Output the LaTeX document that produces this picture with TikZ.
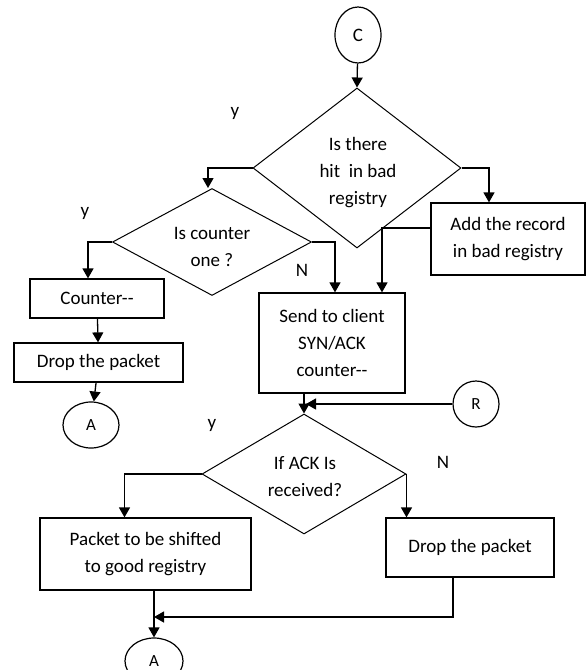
\documentclass[tikz,border=0pt]{standalone}
\usepackage{fontspec}
\setmainfont{Carlito}
\usetikzlibrary{calc,shapes.geometric,arrows.meta}
\tikzset{
	box/.style={draw, line width=1.2pt, rectangle, inner sep=0pt, align=center},
	dec/.style={draw, line width=1pt, diamond, inner sep=0pt},
	con/.style={draw, line width=1.2pt, ellipse, inner sep=0pt},
	txt/.style={align=center, inner sep=0pt},
	flow/.style={line width=1.3pt, -{Triangle[length=10pt,width=11pt]}},
	line/.style={line width=1.3pt}
}

\begin{document}
\begin{tikzpicture}[x=1pt, y=-1pt, font=\fontsize{19}{27}\selectfont]
			%%%%% START %%%%%
			\useasboundingbox (0, 0) rectangle (586, 670);
			
			\node[con, minimum width=46, minimum height=56] (C) at (358, 35) {C};
			
			\node[dec, minimum width=208, minimum height=160] (hit) at (357, 168) {};
			\node[txt] (hittxt) at (358, 173) {Is there\\hit\ \ in bad\\registry};
			
			\node[dec, minimum width=199, minimum height=107] (one) at (212, 242) {};
			\node[txt] (onetxt) at (212, 247) {Is counter\\one ?};
			
			\node[box, minimum width=134, minimum height=39] (counter) at (97, 298.5) {Counter{-}{-}};
			\node[box, minimum width=169, minimum height=39] (dropA) at (98.5, 362.5) {Drop the packet};
			\node[con, minimum width=56, minimum height=46] (A1) at (91, 425) {\fontsize{17}{18}\selectfont A};
			
			\node[box, minimum width=146, minimum height=100] (send) at (332, 343) {Send to client\\SYN/ACK\\counter{-}{-}};
			\node[box, minimum width=154, minimum height=72] (add) at (508, 239) {Add the record\\in bad registry};
			\node[con, minimum width=46, minimum height=46] (R) at (476, 404) {\fontsize{17}{18}\selectfont R};
			
			\node[dec, minimum width=204, minimum height=120] (ack) at (304, 474) {};
			\node[txt] (acktxt) at (305, 477) {If ACK Is\\received?};
			
			\node[box, minimum width=211, minimum height=72] (packet) at (145.5, 554) {Packet to be shifted\\to good registry};
			\node[box, minimum width=168, minimum height=59] (dropB) at (470, 547.5) {Drop the packet};
			\node[con, minimum width=58, minimum height=46] (A2) at (154, 661) {\fontsize{17}{18}\selectfont A};
			\coordinate (join) at (154, 617);
			
			\node (y1) at (235, 113) {y};
			\node (y2) at (85, 213) {y};
			\node (n2) at (302, 270) {N};
			\node (y3) at (212, 425) {y};
			\node (n3) at (443, 462) {N};
			
			\draw[flow] (C) -- (hit.north);
			\draw[flow] (hit.west) -| ([xshift=-4]one.north);
			\draw[flow] (hit.east) -| ([xshift=-19]add.north);
			\draw[flow] (one.west) -| ([xshift=-9]counter.north);
			\draw[flow] (one.east) -| ([xshift=3]send.north);
			\draw[flow] ([yshift=11]add.west) -| ([xshift=50]send.north);
			\draw[flow] (counter) -- (dropA);
			\draw[flow] (dropA) -- (A1);
			\draw[flow] (send.south -| ack.north) -- (ack.north);
			\draw[flow] (R.west) -- ([xshift=2]R.west -| ack.north);
			\draw[flow] (ack.west) -| ([xshift=-21]packet.north);
			\draw[flow] (ack.east) -- (ack.east |- dropB.north);
			\draw[flow] ([xshift=-17]dropB.south) |- (join);
			\draw[flow] (packet.south -| A2.north) -- (A2.north);
			
			%%%%% END %%%%%
\end{tikzpicture}
\end{document}
